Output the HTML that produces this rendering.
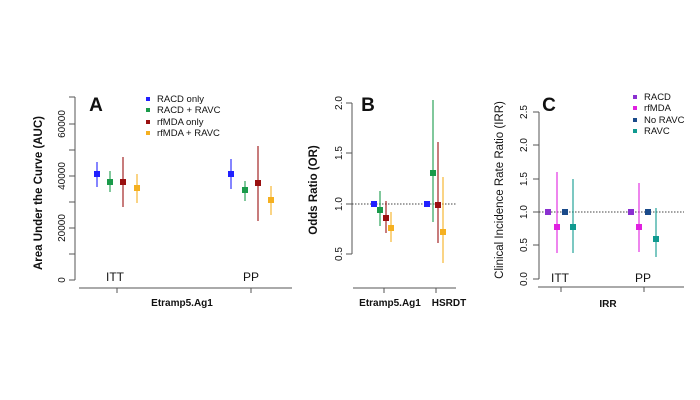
<!DOCTYPE html>
<html><head><meta charset="utf-8"><style>
html,body{margin:0;padding:0;background:#fff;width:700px;height:400px;overflow:hidden}
text{font-family:"Liberation Sans",sans-serif;fill:#111}
</style></head><body>
<svg width="700" height="400" viewBox="0 0 700 400" xmlns="http://www.w3.org/2000/svg">
<g stroke="#555" stroke-width="1" fill="none">
<!-- A axes -->
<path d="M75,97V280 M69,97H75 M69,124H75 M69,150H75 M69,176H75 M69,202H75 M69,228H75 M69,254H75 M69,280H75"/>
<path d="M79,288H292 M117,288V293 M251,288V293"/>
<!-- B axes -->
<path d="M352,103V254 M346,103H352 M346,153H352 M346,204H352 M346,254H352"/>
<path d="M353,288H456 M384,288V293 M436,288V293"/>
<!-- C axes -->
<path d="M539,112V279 M533,112H539 M533,145H539 M533,179H539 M533,212H539 M533,245H539 M533,279H539"/>
<path d="M538,287H684 M561,287V292 M644,287V292"/>
</g>
<g stroke="#444" stroke-width="1" stroke-dasharray="1.5,1.5">
<path d="M352,204H456"/><path d="M539,212H684"/>
</g>
<!-- A labels -->
<g font-size="10" text-anchor="middle">
<text transform="translate(65,280) rotate(-90)">0</text>
<text transform="translate(65,228) rotate(-90)">20000</text>
<text transform="translate(65,176) rotate(-90)">40000</text>
<text transform="translate(65,124) rotate(-90)">60000</text>
<text transform="translate(342,204) rotate(-90)">1.0</text>
<text transform="translate(342,254) rotate(-90)">0.5</text>
<text transform="translate(342,153) rotate(-90)">1.5</text>
<text transform="translate(342,103) rotate(-90)">2.0</text>
<text transform="translate(527,279) rotate(-90)">0.0</text>
<text transform="translate(527,245) rotate(-90)">0.5</text>
<text transform="translate(527,212) rotate(-90)">1.0</text>
<text transform="translate(527,179) rotate(-90)">1.5</text>
<text transform="translate(527,145) rotate(-90)">2.0</text>
<text transform="translate(527,112) rotate(-90)">2.5</text>
</g>
<text transform="translate(42,193) rotate(-90)" font-size="11.5" font-weight="bold" text-anchor="middle">Area Under the Curve (AUC)</text>
<text transform="translate(317,190) rotate(-90)" font-size="11.5" font-weight="bold" text-anchor="middle">Odds Ratio (OR)</text>
<text transform="translate(503,190) rotate(-90)" font-size="11.5" text-anchor="middle">Clinical Incidence Rate Ratio (IRR)</text>
<g font-size="10" font-weight="bold" text-anchor="middle">
<text x="182" y="306">Etramp5.Ag1</text>
<text x="390" y="306">Etramp5.Ag1</text>
<text x="449" y="306">HSRDT</text>
<text x="608" y="307">IRR</text>
</g>
<g font-size="12" text-anchor="middle">
<text x="115" y="281">ITT</text><text x="251" y="281">PP</text>
<text x="560" y="282">ITT</text><text x="643" y="282">PP</text>
</g>
<g font-size="19" font-weight="bold" text-anchor="middle">
<text x="96" y="111">A</text><text x="368" y="111">B</text><text x="549" y="111">C</text>
</g>
<!-- legends -->
<g font-size="9.5">
<rect x="146" y="97" width="4" height="4" fill="#2020ff"/><text x="157" y="102">RACD only</text>
<rect x="146" y="108" width="4" height="4" fill="#1a9a4a"/><text x="157" y="113">RACD + RAVC</text>
<rect x="146" y="120" width="4" height="4" fill="#9a1010"/><text x="157" y="125">rfMDA only</text>
<rect x="146" y="131" width="4" height="4" fill="#f5b020"/><text x="157" y="136">rfMDA + RAVC</text>
<rect x="633" y="95" width="4" height="4" fill="#8a30d0"/><text x="644" y="100">RACD</text>
<rect x="633" y="106" width="4" height="4" fill="#e020e0"/><text x="644" y="111">rfMDA</text>
<rect x="633" y="118" width="4" height="4" fill="#1a4a8a"/><text x="644" y="123">No RAVC</text>
<rect x="633" y="129" width="4" height="4" fill="#109a90"/><text x="644" y="134">RAVC</text>
</g>
<!-- error bars -->
<g stroke-width="2" stroke-opacity="0.55">
<path stroke="#2020ff" d="M97,162V187 M231,159V189 M374,204V204 M427,204V204"/>
<path stroke="#1a9a4a" d="M110,171V192 M245,181V201 M380,191V226 M433,100V222"/>
<path stroke="#9a1010" d="M123,157V207 M258,146V221 M386,201V233 M438,142V243"/>
<path stroke="#f5b020" d="M137,174V203 M271,186V215 M391,212V242 M443,177V263"/>
<path stroke="#e020e0" d="M557,172V253 M639,183V252"/>
<path stroke="#109a90" d="M573,179V253 M656,208V257"/>
</g>
<!-- points -->
<g>
<rect x="94" y="171" width="6" height="6" fill="#2020ff"/><rect x="228" y="171" width="6" height="6" fill="#2020ff"/>
<rect x="107" y="179" width="6" height="6" fill="#1a9a4a"/><rect x="242" y="187" width="6" height="6" fill="#1a9a4a"/>
<rect x="120" y="179" width="6" height="6" fill="#9a1010"/><rect x="255" y="180" width="6" height="6" fill="#9a1010"/>
<rect x="134" y="185" width="6" height="6" fill="#f5b020"/><rect x="268" y="197" width="6" height="6" fill="#f5b020"/>
<rect x="371" y="201" width="6" height="6" fill="#2020ff"/><rect x="424" y="201" width="6" height="6" fill="#2020ff"/>
<rect x="377" y="207" width="6" height="6" fill="#1a9a4a"/><rect x="430" y="170" width="6" height="6" fill="#1a9a4a"/>
<rect x="383" y="215" width="6" height="6" fill="#9a1010"/><rect x="435" y="202" width="6" height="6" fill="#9a1010"/>
<rect x="388" y="225" width="6" height="6" fill="#f5b020"/><rect x="440" y="229" width="6" height="6" fill="#f5b020"/>
<rect x="545" y="209" width="6" height="6" fill="#8a30d0"/><rect x="628" y="209" width="6" height="6" fill="#8a30d0"/>
<rect x="554" y="224" width="6" height="6" fill="#e020e0"/><rect x="636" y="224" width="6" height="6" fill="#e020e0"/>
<rect x="562" y="209" width="6" height="6" fill="#1a4a8a"/><rect x="645" y="209" width="6" height="6" fill="#1a4a8a"/>
<rect x="570" y="224" width="6" height="6" fill="#109a90"/><rect x="653" y="236" width="6" height="6" fill="#109a90"/>
</g>
</svg>
</body></html>
